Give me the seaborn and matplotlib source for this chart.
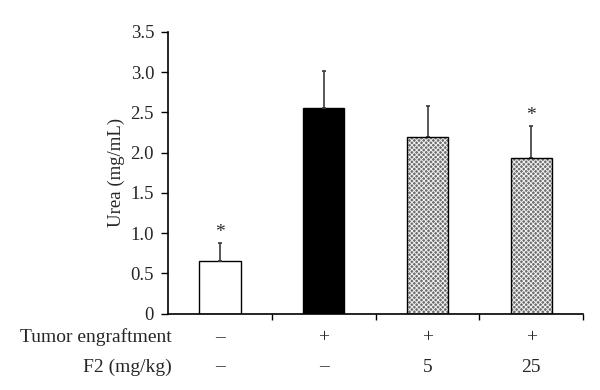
import numpy as np
import pandas as pd
import matplotlib
matplotlib.use("Agg")
import matplotlib.pyplot as plt
import matplotlib.patches as mpatches
import seaborn as sns

# Data
groups = ["G1", "G2", "G3", "G4"]
urea = [0.65, 2.55, 2.20, 1.93]
urea_sd = [0.23, 0.47, 0.38, 0.40]
signif = ["*", "", "", "*"]
engraftment = ["\u2013", "+", "+", "+"]
f2_dose = ["\u2013", "\u2013", "5", "25"]
row_labels = ["Tumor engraftment", "F2 (mg/kg)"]
yticks = [0, 0.5, 1.0, 1.5, 2.0, 2.5, 3.0, 3.5]
ytick_labels = ["0", "0.5", "1.0", "1.5", "2.0", "2.5", "3.0", "3.5"]

sns.set_theme(style="ticks")
plt.rcParams["font.family"] = ["Liberation Serif", "DejaVu Serif"]
plt.rcParams["hatch.linewidth"] = 0.7

df = pd.DataFrame({"group": groups, "urea": urea})

fig = plt.figure(figsize=(6, 3.9), dpi=100)
ax = fig.add_axes([0.28, 0.196, 0.692, 0.722])

fills = ["white", "black", "#6e6e6e", "#6e6e6e"]
sns.barplot(data=df, x="group", y="urea", hue="group", palette=fills,
            legend=False, errorbar=None, width=0.4, ax=ax,
            edgecolor="black", linewidth=1.0)

# hatched bars: fine light pattern, then the outline on top
for i, p in enumerate(ax.patches):
    if i >= 2:
        p.set_hatch("xxxxxxx")
        p.set_edgecolor("#f0f0f0")
        p.set_linewidth(0)
        outline = mpatches.Rectangle(p.get_xy(), p.get_width(), p.get_height(),
                                     fill=False, edgecolor="black", linewidth=1.0, zorder=3)
        ax.add_patch(outline)

x = np.arange(len(groups))
ax.errorbar(x, urea, yerr=[np.zeros(len(urea)), urea_sd], fmt="none",
            ecolor="#3a3a3a", elinewidth=1.2, capsize=1.5, capthick=1.2, zorder=2)

for xi, v, s, m in zip(x, urea, urea_sd, signif):
    if m:
        ax.text(xi, v + s + 0.02, m, ha="center", va="bottom", fontsize=14)

ax.set_ylim(0, 3.5)
ax.set_xlim(-0.5, len(groups) - 0.5)
ax.set_yticks(yticks)
ax.set_yticklabels(ytick_labels, fontsize=13.5)
ax.set_xticks(np.arange(len(groups)) + 0.5)
ax.set_xticklabels([])
ax.tick_params(axis="x", direction="out", length=4, width=1, color="black")
ax.tick_params(axis="y", direction="out", length=5, width=1, color="black", pad=5)
ax.set_xlabel("")
ax.set_ylabel("Urea (mg/mL)", fontsize=13.5, labelpad=4)

for side in ["top", "right"]:
    ax.spines[side].set_visible(False)
for side in ["left", "bottom"]:
    ax.spines[side].set_color("black")
    ax.spines[side].set_linewidth(1.2)

# condition table under the axis
trans = ax.get_xaxis_transform()
row_y = [-0.085, -0.19]
for ry, lab, vals in zip(row_y, row_labels, [engraftment, f2_dose]):
    ax.text(0.01, ry, lab, transform=ax.transAxes,
            ha="right", va="center", fontsize=14)
    for xi, v in zip(x, vals):
        ax.text(xi, ry, v, transform=trans, ha="center", va="center", fontsize=14)

fig.savefig("out.png", dpi=100)
